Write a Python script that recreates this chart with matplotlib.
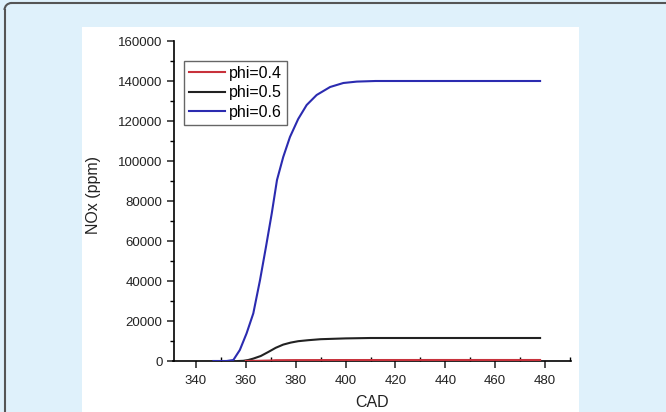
import matplotlib
matplotlib.use('Agg')
import matplotlib.pyplot as plt
from matplotlib.patches import Rectangle, Arc
from matplotlib.lines import Line2D
from matplotlib.ticker import MultipleLocator

# curves (CAD, NOx ppm)
cad_04 = [360, 365, 370, 372, 380, 400, 440, 478]
nox_04 = [0, 100, 250, 400, 450, 480, 500, 500]

cad_05 = [357, 359, 361, 363, 366, 369, 372, 375, 378, 381, 385, 390, 395, 400, 410, 440, 478]
nox_05 = [0, 100, 500, 1200, 2500, 4500, 6600, 8200, 9200, 9900, 10400, 10900, 11100, 11300, 11500, 11500, 11500]

cad_06 = [347, 352.3, 355, 357.6, 360.3, 363, 365.7, 368.1, 370.4, 372.5, 375, 377.7, 381, 384.4,
          388.4, 393.8, 399.1, 404.5, 412, 440, 478]
nox_06 = [0, 0, 500, 5500, 13800, 23800, 40500, 57200, 73800, 90500, 102000, 112000, 121000, 128000,
          133000, 137000, 139000, 139700, 140000, 140000, 140000]

labels = ['phi=0.4', 'phi=0.5', 'phi=0.6']
colors = ['#c8323c', '#222222', '#2b2bb0']

plt.rcParams['font.family'] = ['Liberation Sans', 'DejaVu Sans']

W, H = 666, 412
fig = plt.figure(figsize=(W / 100, H / 100), dpi=100)
fig.patch.set_facecolor('#dff1fb')

# frame: top and left edges with a rounded corner, rest cut off
x0, y0, r = 4.5, H - 3.0, 7.0
fx = lambda p: p / W
fy = lambda p: p / H
fig.add_artist(Line2D([fx(x0 + r), 1.0], [fy(y0), fy(y0)], color='#555555', lw=1.5,
                      transform=fig.transFigure, zorder=-1))
fig.add_artist(Line2D([fx(x0), fx(x0)], [0.0, fy(y0 - r)], color='#555555', lw=1.5,
                      transform=fig.transFigure, zorder=-1))
fig.add_artist(Arc((fx(x0 + r), fy(y0 - r)), fx(2 * r), fy(2 * r), theta1=90, theta2=180,
                   color='#555555', lw=1.5, transform=fig.transFigure, zorder=-1))
panel = Rectangle((fx(82), 0), fx(579 - 82), fy(H - 27), transform=fig.transFigure,
                  facecolor='white', edgecolor='none', zorder=-1)
fig.patches.append(panel)

ax = fig.add_axes([fx(173.5), fy(51), fx(571 - 173.5), fy(320)])
ax.set_facecolor('white')

ax.plot(cad_06, nox_06, color=colors[2], lw=1.5, label=labels[2], zorder=3)
ax.plot(cad_05, nox_05, color=colors[1], lw=1.5, label=labels[1], zorder=4)
ax.plot(cad_04, nox_04, color=colors[0], lw=1.5, label=labels[0], zorder=5)

ax.set_xlim(331, 490.4)
ax.set_ylim(0, 160000)
ax.spines['top'].set_visible(False)
ax.spines['right'].set_visible(False)
ax.spines['left'].set_linewidth(1.2)
ax.spines['bottom'].set_linewidth(1.2)

ax.xaxis.set_major_locator(MultipleLocator(20))
ax.xaxis.set_minor_locator(MultipleLocator(10))
ax.yaxis.set_major_locator(MultipleLocator(20000))
ax.yaxis.set_minor_locator(MultipleLocator(10000))
ax.set_xticks(range(340, 481, 20))
ax.tick_params(which='major', direction='out', length=5, width=1.1, labelsize=9.5, colors='#222222')
ax.tick_params(which='minor', direction='out', length=3, width=1.0)
ax.tick_params(axis='x', which='minor', direction='in', length=3)
ax.tick_params(axis='x', pad=5)
ax.tick_params(axis='y', pad=3)

ax.set_xlabel('CAD', fontsize=11.5, color='#222222')
ax.set_ylabel('NOx (ppm)', fontsize=11.5, color='#222222')
ax.xaxis.set_label_coords(0.5, -0.131)
ax.xaxis.label.set_va('center')
ax.yaxis.set_label_coords(-0.201, 0.52)
ax.yaxis.label.set_va('center')

h, l = ax.get_legend_handles_labels()
leg = ax.legend(h[::-1], l[::-1], loc='upper left', bbox_to_anchor=(0.026, 0.9375),
                borderaxespad=0, fontsize=11.5, frameon=True, fancybox=False,
                edgecolor='#666666', framealpha=1, handlelength=2.3,
                handletextpad=0.25, labelspacing=0.28, borderpad=0.3)
leg.get_frame().set_linewidth(1.0)

fig.savefig('out.png', dpi=100, facecolor=fig.get_facecolor())
